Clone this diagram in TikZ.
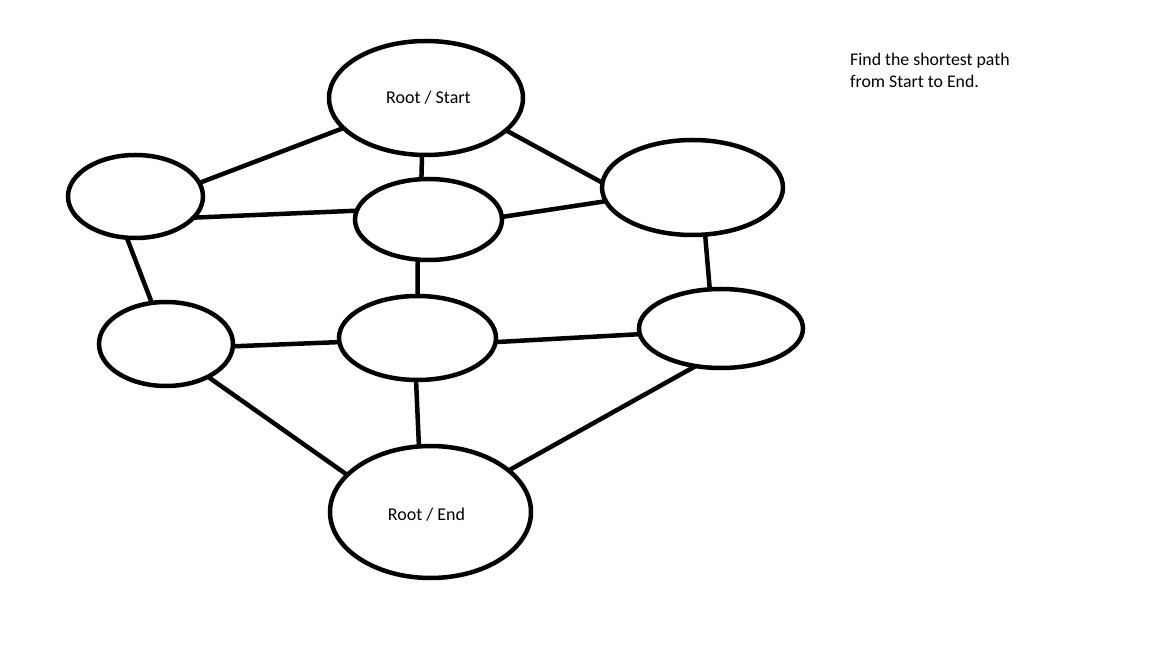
\documentclass[tikz,border=0pt]{standalone}
\usepackage{fontspec}
\setmainfont{Carlito}
\usetikzlibrary{shapes.geometric}
\begin{document}
\begin{tikzpicture}[x=1pt,y=1pt,
  vtx/.style={ellipse, draw=black, line width=4.5pt, inner sep=0pt, outer sep=0pt, font=\fontsize{18}{22}\selectfont},
  edge/.style={line width=4.5pt, black}]
\useasboundingbox (0,0) rectangle (1152,648);
\fill[white] (0,0) rectangle (1152,648);
\node[vtx, minimum width=194pt, minimum height=114pt] (start) at (426,550) {\hspace*{5pt}Root / Start};
\node[vtx, minimum width=135pt, minimum height=83pt] (lt) at (135.5,451.5) {};
\node[vtx, minimum width=147pt, minimum height=81pt] (ct) at (428.5,428.5) {};
\node[vtx, minimum width=181pt, minimum height=95pt] (rt) at (692.5,460.5) {};
\node[vtx, minimum width=134pt, minimum height=84pt] (lm) at (166,304) {};
\node[vtx, minimum width=157pt, minimum height=84pt] (cm) at (417.5,310) {};
\node[vtx, minimum width=164pt, minimum height=79pt] (rm) at (721,319.5) {};
\node[vtx, minimum width=201pt, minimum height=132pt, text height=21.5pt, text depth=4pt] (end) at (430.5,136) {Root / End\hspace*{8pt}};
\draw[edge] (start.200) -- (lt.12);
\draw[edge] (start.266) -- (ct.100);
\draw[edge] (start.338) -- (rt.177);
\draw[edge] (lt.340) -- (ct.173);
\draw[edge] (ct.2) -- (rt.189);
\draw[edge] (lt.258) -- (lm.109);
\draw[edge] (ct.255) -- (cm.90);
\draw[edge] (rt.285) -- (rm.106);
\draw[edge] (lm.358) -- (cm.183);
\draw[edge] (cm.357) -- (rm.184);
\draw[edge] (lm.322) -- (end.156);
\draw[edge] (cm.268) -- (end.100);
\draw[edge] (rm.236) -- (end.28);
\node[font=\fontsize{17.8}{22}\selectfont, align=left, anchor=base west, inner sep=0pt] (note) at (850,560) {Find the shortest path\\from Start to End.};
\end{tikzpicture}
\end{document}
